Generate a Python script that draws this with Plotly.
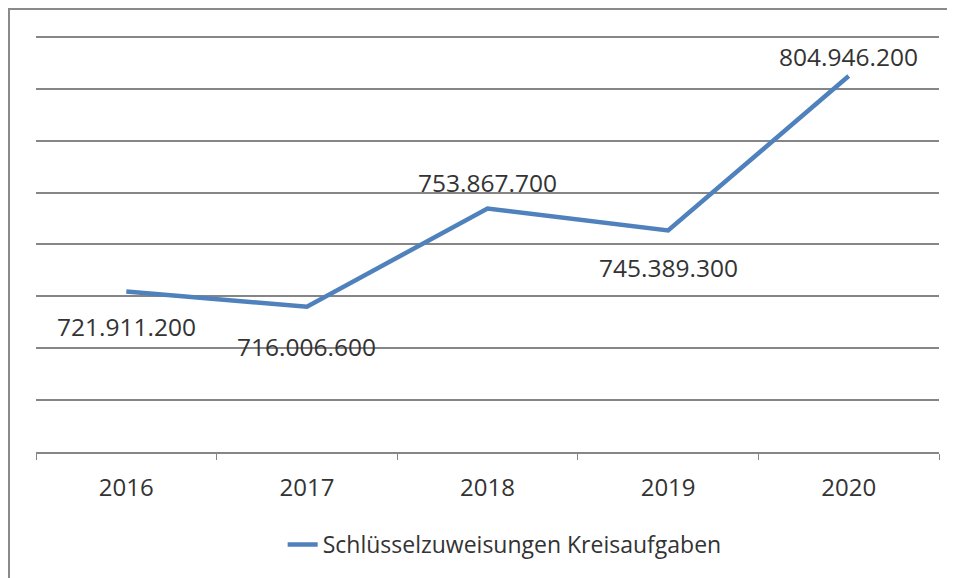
import plotly.graph_objects as go

years = ["2016", "2017", "2018", "2019", "2020"]
values = [721911200, 716006600, 753867700, 745389300, 804946200]
labels = ["721.911.200", "716.006.600", "753.867.700", "745.389.300", "804.946.200"]
label_shift = [-35, -40, 26, -37, 20]
series_name = "Schlüsselzuweisungen Kreisaufgaben"

# page body has an 8px margin, so the figure is placed at (8, 8)
W, H = 947, 570
ml, mr, mt, mb = 28, 16, 20, 124
pw = W - ml - mr
ph = H - mt - mb
px_per_val = 417 / 160000000
y_lo = 660000000
y_hi = 820000000 + 9 / px_per_val

fig = go.Figure()
fig.add_trace(go.Scatter(
    x=years, y=values, mode="lines", name=series_name,
    line=dict(color="#4F81BD", width=4.5),
    showlegend=True,
))

for i, (y, t, s) in enumerate(zip(values, labels, label_shift)):
    fig.add_annotation(x=i, y=y, text=t, showarrow=False, yshift=s,
                       font=dict(family="Open Sans", size=24.5, color="#333333"))

fig.add_shape(type="rect", xref="paper", yref="paper",
              x0=(1 - ml) / pw, x1=(W + 40 - ml) / pw,
              y0=-(H + 40 - mt - ph) / ph, y1=(ph + mt - 1) / ph,
              line=dict(color="#8a8a8a", width=2), fillcolor="rgba(0,0,0,0)",
              layer="below")

fig.update_layout(
    width=W, height=H,
    margin=dict(l=ml, r=mr, t=mt, b=mb),
    paper_bgcolor="white", plot_bgcolor="white",
    showlegend=True,
    legend=dict(orientation="h", x=0.519, xanchor="center", y=-0.218, yanchor="middle",
                font=dict(family="Open Sans", size=23, color="#333333"),
                bgcolor="rgba(0,0,0,0)"),
    xaxis=dict(type="category", range=[-0.5, 4.5], tickson="boundaries",
               ticks="outside", ticklen=6, tickcolor="#868686", tickwidth=1,
               showline=True, linecolor="#868686", linewidth=1.5,
               ticklabelstandoff=13,
               showgrid=False, tickfont=dict(family="Open Sans", size=24, color="#333333")),
    yaxis=dict(range=[y_lo, y_hi], dtick=20000000, tick0=0,
               showticklabels=False, showgrid=True, gridcolor="#868686", gridwidth=1.5,
               zeroline=False, showline=False, ticks=""),
)

fig.write_html("out.html")
